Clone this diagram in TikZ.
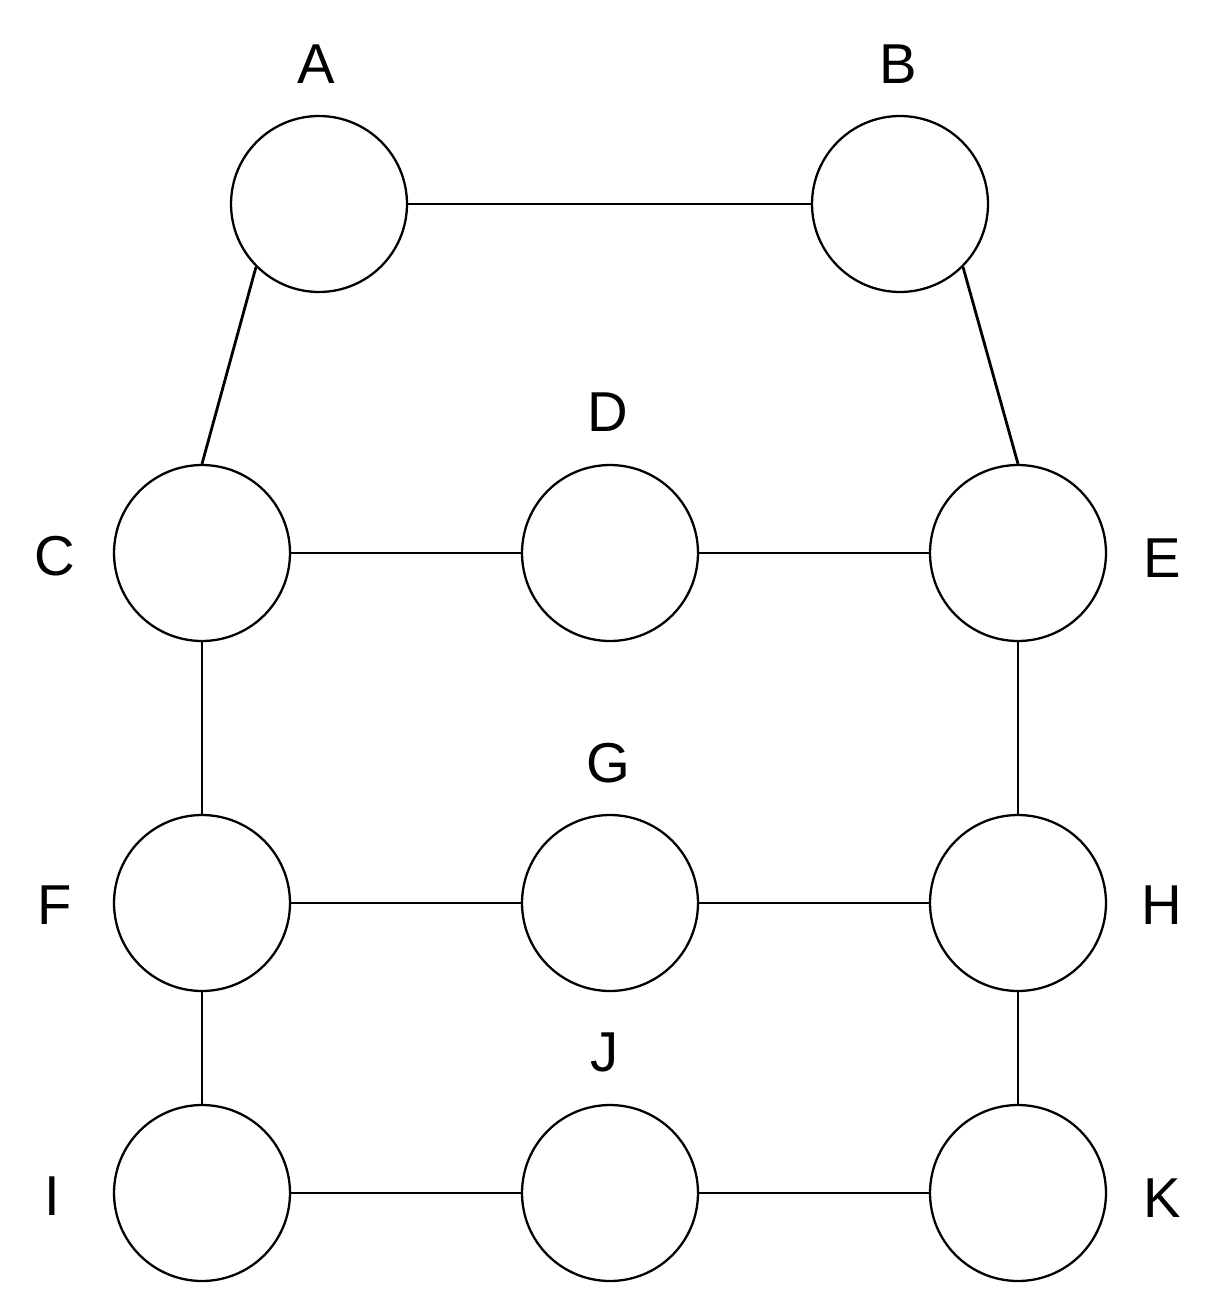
\documentclass[tikz,border=0pt]{standalone}
\usepackage{fontspec}
\setmainfont{Liberation Sans}
\begin{document}
\begin{tikzpicture}[x=0.02cm,y=-0.02cm,
  v/.style={circle,draw,line width=1.3pt,minimum size=3.52cm,inner sep=0pt},
  lab/.style={font=\fontsize{32}{36}\selectfont},
  e/.style={line width=1.6pt}]
\useasboundingbox (0,0) rectangle (1216,1311);
\node[v] (A) at (319,204) {};
\node[v] (B) at (900,204) {};
\node[v] (C) at (202,553) {};
\node[v] (D) at (610,553) {};
\node[v] (E) at (1018,553) {};
\node[v] (F) at (202,903) {};
\node[v] (G) at (610,903) {};
\node[v] (H) at (1018,903) {};
\node[v] (I) at (202,1193) {};
\node[v] (J) at (610,1193) {};
\node[v] (K) at (1018,1193) {};
\node[lab] (lA) at (316,64) {A};
\node[lab] (lB) at (898,64) {B};
\node[lab] (lD) at (608,412) {D};
\node[lab] (lG) at (608,763) {G};
\node[lab] (lJ) at (605,1052) {J};
\node[lab] (lC) at (55,556) {C};
\node[lab] (lE) at (1162,558) {E};
\node[lab] (lF) at (55,905) {F};
\node[lab] (lH) at (1162,905) {H};
\node[lab] (lI) at (52,1196) {I};
\node[lab] (lK) at (1162,1198) {K};
\draw[e] (A) -- (B);
\draw[e] (A.225) -- (C.north);
\draw[e] (B.-45) -- (E.north);
\draw[e] (C) -- (D);
\draw[e] (D) -- (E);
\draw[e] (C) -- (F);
\draw[e] (E) -- (H);
\draw[e] (F) -- (G);
\draw[e] (G) -- (H);
\draw[e] (F) -- (I);
\draw[e] (H) -- (K);
\draw[e] (I) -- (J);
\draw[e] (J) -- (K);
\end{tikzpicture}
\end{document}
